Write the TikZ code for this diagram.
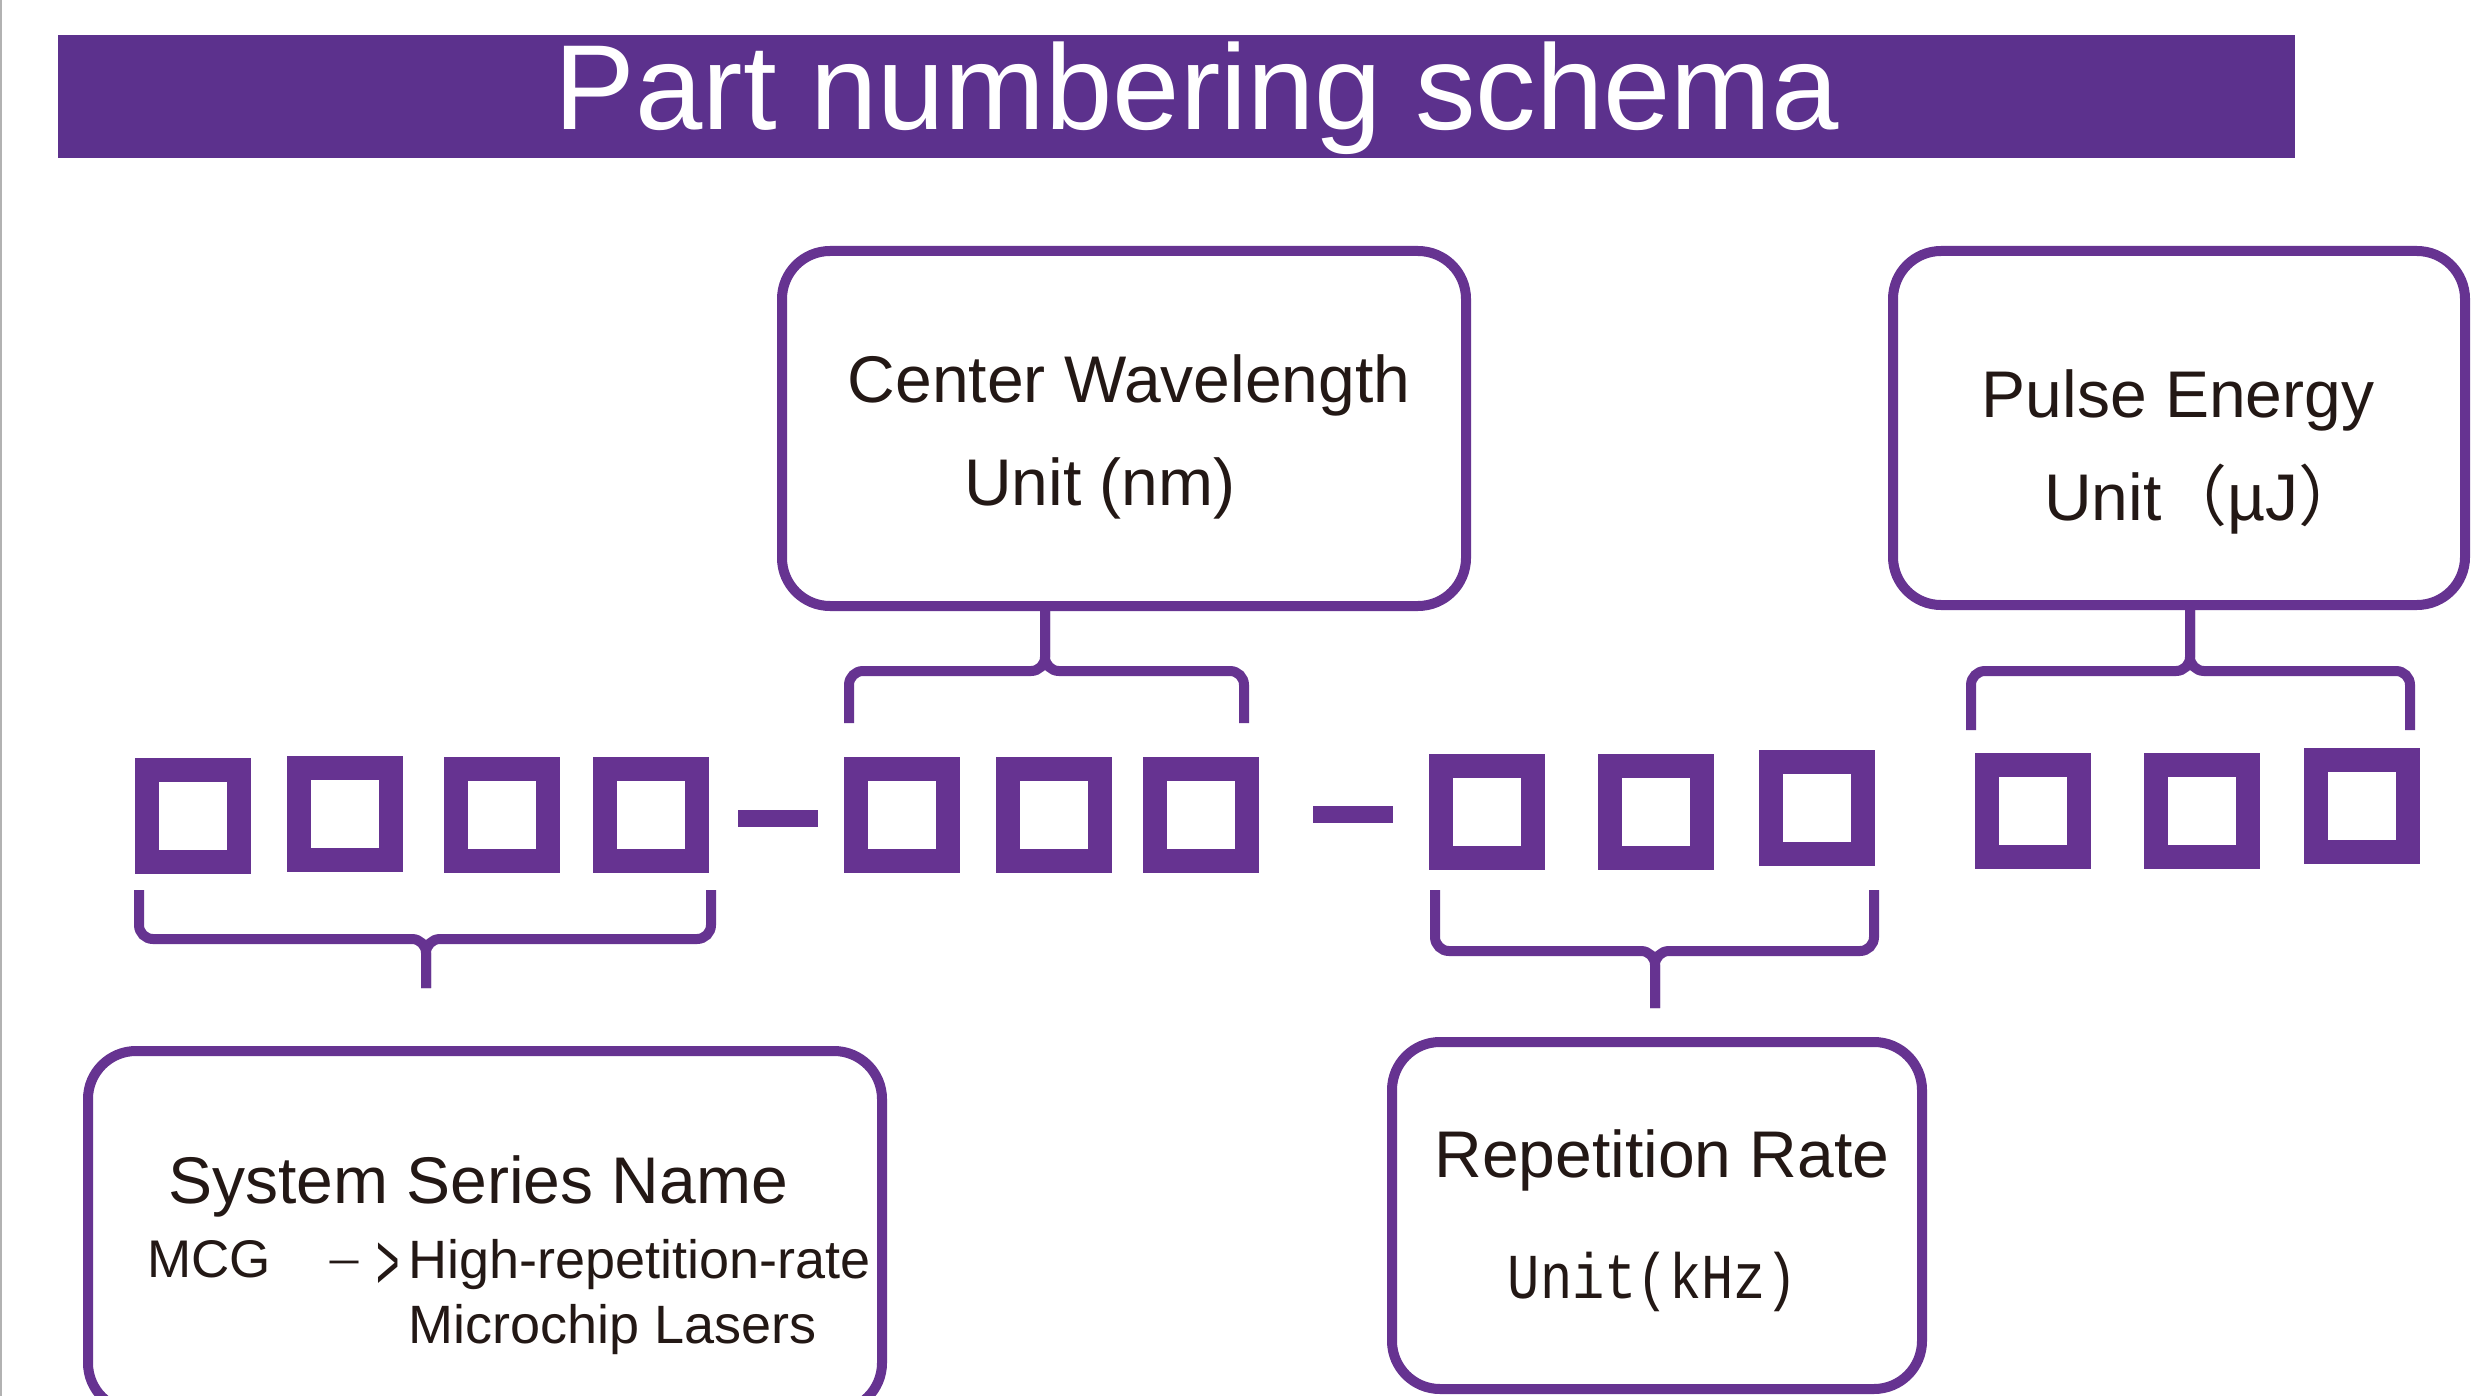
\documentclass[tikz,border=0pt]{standalone}
\usepackage{fontspec}
\setmainfont{Liberation Sans}
\newfontfamily\cjk{Noto Sans CJK SC}
\newfontfamily\monoc{Liberation Mono}[FakeStretch=0.84]
\definecolor{pbar}{RGB}{92,49,141}
\definecolor{pline}{RGB}{102,51,145}
\definecolor{ink}{RGB}{35,24,21}
\tikzset{
 infobox/.style={draw=pline, line width=10pt, rounded corners=48pt, inner sep=0pt},
 sq/.style={draw=pline, line width=24pt, minimum width=92pt, minimum height=92pt, inner sep=0pt},
 dashbar/.style={fill=pline, inner sep=0pt, minimum width=80pt, minimum height=17pt},
 brace/.style={draw=pline, line width=10pt, rounded corners=14pt},
 lbl/.style={font=\fontsize{66}{79}\selectfont, text=ink, inner sep=0pt, anchor=base},
 sm/.style={font=\fontsize{54}{63}\selectfont, text=ink, inner sep=0pt, anchor=base west},
}
\begin{document}
\begin{tikzpicture}[x=1pt,y=-1pt]
\useasboundingbox (0,0) rectangle (2473,1396);
\fill[white] (0,0) rectangle (2473,1396);
\draw[gray!60, line width=2pt] (1,0) -- (1,1396);
% title
\node[fill=pbar, minimum width=2237pt, minimum height=123pt, inner sep=0pt] (bar) at (1176.5,96.5) {};
\node[text=white, font=\fontsize{121}{140}\selectfont, anchor=base, inner sep=0pt] (title) at (1197,130) {Part numbering schema};
% boxes
\node[infobox, minimum width=684pt, minimum height=355pt] (cw) at (1124,428.5) {};
\node[infobox, minimum width=572pt, minimum height=354pt] (pe) at (2179,428) {};
\node[infobox, minimum width=794pt, minimum height=360pt] (ss) at (485,1231) {};
\node[infobox, minimum width=530pt, minimum height=347pt] (rr) at (1657,1215.5) {};
% texts
\node[lbl] (cwa) at (1129,402) {Center Wavelength};
\node[lbl] (cwb) at (1100,505) {Unit (nm)};
\node[lbl] (pea) at (2178,417) {Pulse Energy};
\node[lbl, anchor=base west] (peb) at (2044,520) {Unit{\cjk （}µJ{\cjk ）}};
\node[lbl] (ssa) at (478,1203) {System Series Name};
\node[sm, font=\fontsize{53}{63}\selectfont] (mcg) at (147,1277) {MCG};
\node[sm] (arr) at (324,1277) {{\cjk\fontsize{40}{48}\selectfont －}\hspace{12pt}\raisebox{-12pt}{\scalebox{0.5}[1]{\fontsize{80}{80}\selectfont >}}};
\node[sm] (hr1) at (408,1278) {High-repetition-rate};
\node[sm] (hr2) at (408,1343) {Microchip Lasers};
\node[lbl] (rra) at (1662,1177) {Repetition Rate};
\node[lbl, font=\monoc\fontsize{64}{70}\selectfont] (rrb) at (1653,1298) {Unit(kHz)};
% squares
\node[sq] (s1) at (193,815.5) {};
\node[sq] (s2) at (345,814) {};
\node[sq] (s3) at (502,815) {};
\node[sq] (s4) at (651,815) {};
\node[dashbar] (d1) at (778,818.5) {};
\node[sq] (s5) at (902,815) {};
\node[sq] (s6) at (1054,815) {};
\node[sq] (s7) at (1201,815) {};
\node[dashbar] (d2) at (1353,814.5) {};
\node[sq] (s8) at (1487,811.5) {};
\node[sq] (s9) at (1656,811.5) {};
\node[sq] (s10) at (1817,808) {};
\node[sq] (s11) at (2032.5,811) {};
\node[sq] (s12) at (2202,811) {};
\node[sq] (s13) at (2362,806) {};
% braces
\coordinate (aL) at (139,890); \coordinate (aR) at (711,890);
\coordinate (aM) at (426,939); \coordinate (aT) at (426,988);
\draw[brace] (aL) |- (aM) -- (aT);
\draw[brace] (aR) |- (aM) -- (aT);
\coordinate (bL) at (849,723); \coordinate (bR) at (1244,723);
\coordinate (bM) at (1045,671);
\draw[brace] (bL) |- (bM) -- (bM |- cw.south);
\draw[brace] (bR) |- (bM) -- (bM |- cw.south);
\coordinate (cL) at (1435,890); \coordinate (cR) at (1874,890);
\coordinate (cM) at (1655,951); \coordinate (cT) at (1655,1008);
\draw[brace] (cL) |- (cM) -- (cT);
\draw[brace] (cR) |- (cM) -- (cT);
\coordinate (dL) at (1971,730); \coordinate (dR) at (2410,730);
\coordinate (dM) at (2190,671);
\draw[brace] (dL) |- (dM) -- (dM |- pe.south);
\draw[brace] (dR) |- (dM) -- (dM |- pe.south);
\end{tikzpicture}
\end{document}
